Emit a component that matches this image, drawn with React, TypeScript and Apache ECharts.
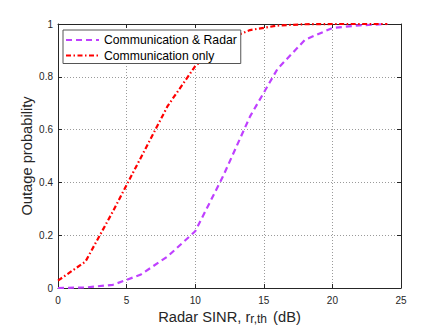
import React, { useEffect, useRef } from "react";
import * as echarts from "echarts";

const xValues = [0, 2, 4, 6, 8, 10, 12, 14, 16, 18, 20, 22, 24];
const commRadar = [0, 0.002, 0.012, 0.05, 0.12, 0.215, 0.42, 0.65, 0.83, 0.94, 0.985, 0.995, 1.0];
const commOnly = [0.028, 0.1, 0.29, 0.49, 0.69, 0.84, 0.935, 0.977, 0.994, 0.999, 1.0, 1.0, 1.0];
const xTicks = [0, 5, 10, 15, 20, 25];
const yTicks = [0, 0.2, 0.4, 0.6, 0.8, 1];

const FONT = "Arial, 'Liberation Sans', Helvetica, sans-serif";
const AX = "#262626";

export default function App() {
  const ref = useRef<HTMLDivElement>(null);
  useEffect(() => {
    if (!ref.current) return;
    const chart = echarts.init(ref.current, undefined, { renderer: "svg" });
    const gridLine = { show: true, lineStyle: { color: "#9a9a9a", type: [1, 2], width: 1 } };
    const axisLine = { show: true, onZero: false, lineStyle: { color: AX, width: 1 } };
    const axisTick = { show: true, inside: true, length: 4, lineStyle: { color: AX, width: 1 } };
    chart.setOption({
      animation: false,
      backgroundColor: "#ffffff",
      grid: { left: 58, right: 42, top: 24, bottom: 47, containLabel: false },
      legend: {
        orient: "vertical",
        left: 63,
        top: 30,
        z: 10,
        padding: [4, 4, 2, 2],
        itemGap: 3.5,
        itemWidth: 33,
        itemHeight: 14,
        backgroundColor: "#ffffff",
        borderColor: "#555555",
        borderWidth: 1,
        borderRadius: 0,
        itemStyle: { opacity: 0 },
        textStyle: { fontFamily: FONT, fontSize: 12.2, color: "#000000" },
        data: ["Communication & Radar", "Communication only"],
      },
      xAxis: [
        {
          type: "value",
          min: 0,
          max: 25,
          interval: 5,
          position: "bottom",
          axisLine,
          axisTick,
          splitLine: gridLine,
          axisLabel: {
            fontFamily: FONT,
            fontSize: 10,
            color: AX,
            margin: 7,
            formatter: (v: number) => (xTicks.includes(v) ? String(v) : ""),
          },
          name: "{a|Radar SINR, r}{b|r,th}{a| (dB)}",
          nameLocation: "middle",
          nameGap: 21,
          nameMoveOverlap: false,
          nameTextStyle: {
            rich: {
              a: { fontFamily: FONT, fontSize: 14.7, color: AX, lineHeight: 16, verticalAlign: "top" },
              b: {
                fontFamily: FONT,
                fontSize: 12,
                color: AX,
                lineHeight: 13,
                verticalAlign: "bottom",
                padding: [10, 2, 0, 0],
              },
            },
          },
        },
        {
          type: "value",
          min: 0,
          max: 25,
          interval: 5,
          position: "top",
          axisLine,
          axisTick,
          splitLine: { show: false },
          axisLabel: { show: false },
        },
      ],
      yAxis: [
        {
          type: "value",
          min: 0,
          max: 1,
          interval: 0.2,
          position: "left",
          axisLine,
          axisTick,
          splitLine: gridLine,
          axisLabel: {
            fontFamily: FONT,
            fontSize: 10,
            color: AX,
            margin: 5,
            formatter: (v: number) => {
              const t = yTicks.find((k) => Math.abs(k - v) < 1e-9);
              return t === undefined ? "" : String(t);
            },
          },
          name: "Outage probability",
          nameLocation: "middle",
          nameGap: 24,
          nameMoveOverlap: false,
          nameTextStyle: { fontFamily: FONT, fontSize: 14.7, color: AX },
        },
        {
          type: "value",
          min: 0,
          max: 1,
          interval: 0.2,
          position: "right",
          axisLine,
          axisTick,
          splitLine: { show: false },
          axisLabel: { show: false },
        },
      ],
      series: [
        {
          name: "Communication & Radar",
          type: "line",
          xAxisIndex: 0,
          yAxisIndex: 0,
          data: xValues.map((x, i) => [x, commRadar[i]]),
          showSymbol: false,
          symbol: "none",
          color: "#BF40FF",
          lineStyle: { color: "#BF40FF", width: 2.2, type: [6, 4] },
          z: 2,
        },
        {
          name: "Communication only",
          type: "line",
          xAxisIndex: 0,
          yAxisIndex: 0,
          data: xValues.map((x, i) => [x, commOnly[i]]),
          showSymbol: false,
          symbol: "none",
          color: "#FF0000",
          lineStyle: { color: "#FF0000", width: 2.2, type: [5, 2.5, 1.5, 2.5] },
          z: 3,
        },
      ],
    });
    return () => chart.dispose();
  }, []);
  return <div ref={ref} style={{ width: 443, height: 335, margin: -8 }} />;
}
